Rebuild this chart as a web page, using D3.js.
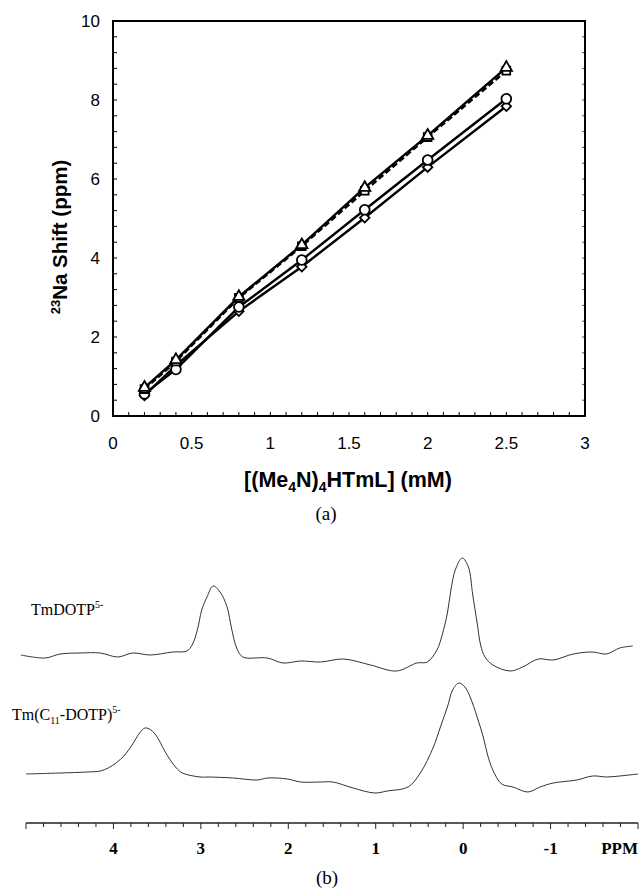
<!DOCTYPE html>
<meta charset="utf-8">
<style>
body { margin: 0; background: #fff; }
.sans { font-family: "Liberation Sans", Arial, sans-serif; }
.serif { font-family: "Liberation Serif", "Times New Roman", serif; }
</style>
<body>
<script src="https://d3js.org/d3.v7.min.js"></script>
<script>

// ---- panel (a): 23Na shift vs concentration ----
var conc = [0.2, 0.4, 0.8, 1.2, 1.6, 2.0, 2.5];
var shiftTriangle = [0.72, 1.42, 3.02, 4.33, 5.78, 7.10, 8.82];
var shiftSquare   = [0.68, 1.38, 2.99, 4.30, 5.70, 7.06, 8.74];
var shiftCircle   = [0.56, 1.18, 2.76, 3.95, 5.22, 6.48, 8.03];
var shiftDiamond  = [0.52, 1.28, 2.65, 3.78, 5.02, 6.30, 7.84];
var xTicksA = [0, 0.5, 1, 1.5, 2, 2.5, 3];
var yTicksA = [0, 2, 4, 6, 8, 10];

// ---- panel (b): spectra ----
var ppmTop = [5.06, 4.78, 4.61, 4.38, 4.15, 3.95, 3.78, 3.58, 3.32, 3.16, 3.10, 3.04, 2.99, 2.93, 2.86,
  2.78, 2.70, 2.65, 2.59, 2.52, 2.24, 2.06, 1.86, 1.63, 1.37, 1.06, 0.76, 0.53, 0.41, 0.30, 0.24, 0.18,
  0.14, 0.09, 0.01, -0.06, -0.11, -0.16, -0.20, -0.25, -0.34, -0.54, -0.68, -0.86, -1.03, -1.26, -1.48,
  -1.64, -1.79, -1.94];
var intTop = [0.05, 0.02, 0.06, 0.07, 0.07, 0.03, 0.07, 0.05, 0.08, 0.09, 0.15, 0.30, 0.50, 0.63, 0.74,
  0.68, 0.53, 0.32, 0.12, 0.03, 0.02, -0.03, -0.01, -0.02, 0.01, -0.05, -0.11, -0.03, -0.02, 0.10, 0.25, 0.47,
  0.70, 0.90, 1.02, 0.93, 0.65, 0.37, 0.15, 0.03, -0.05, -0.11, -0.07, 0.01, 0.00, 0.06, 0.08,
  0.06, 0.12, 0.14];
var ppmBottom = [5.00, 4.61, 4.30, 4.15, 4.06, 3.97, 3.87, 3.78, 3.70, 3.64, 3.57, 3.50, 3.42, 3.35, 3.28, 3.21,
  3.01, 2.90, 2.63, 2.35, 2.24, 2.01, 1.86, 1.63, 1.49, 1.26, 1.01, 0.87, 0.63, 0.49, 0.34, 0.26, 0.18,
  0.12, 0.05, -0.02, -0.08, -0.16, -0.23, -0.28, -0.34, -0.44, -0.57, -0.74, -0.88, -1.03, -1.30, -1.48,
  -1.64, -1.79, -2.00];
var intBottom = [0.06, 0.07, 0.08, 0.09, 0.12, 0.17, 0.25, 0.36, 0.47, 0.52, 0.50, 0.43, 0.30, 0.20, 0.12, 0.07,
  0.03, 0.03, 0.02, 0.00, 0.02, 0.01, -0.02, -0.02, -0.02, -0.08, -0.13, -0.11, -0.07, 0.07, 0.33, 0.53, 0.73,
  0.90, 0.97, 0.93, 0.83, 0.63, 0.43, 0.25, 0.10, -0.04, -0.07, -0.12, -0.07, -0.03, 0.00, 0.04,
  0.03, 0.04, 0.06];
var traceOffsets = [0, -1.2];
var ppmTicks = [4, 3, 2, 1, 0, -1];

var svg = d3.select("body").append("svg")
    .attr("width", 640)
    .attr("height", 890);

// ===== panel (a) =====
var x = d3.scaleLinear().domain([0, 3]).range([113, 585]);
var y = d3.scaleLinear().domain([0, 10]).range([416, 21]);

// minor inward ticks
var yMinor = d3.range(0, 10.01, 0.4);
var xMinor = d3.range(0, 3.001, 0.1);
svg.append("g").selectAll("line").data(yMinor).enter().append("line")
    .attr("x1", x(0)).attr("x2", x(0) + 4)
    .attr("y1", function(d) { return y(d); }).attr("y2", function(d) { return y(d); })
    .attr("stroke", "#000").attr("stroke-width", 1);
svg.append("g").selectAll("line").data(yMinor).enter().append("line")
    .attr("x1", x(3)).attr("x2", x(3) - 3)
    .attr("y1", function(d) { return y(d); }).attr("y2", function(d) { return y(d); })
    .attr("stroke", "#555").attr("stroke-width", 1);
svg.append("g").selectAll("line").data(xMinor).enter().append("line")
    .attr("x1", function(d) { return x(d); }).attr("x2", function(d) { return x(d); })
    .attr("y1", y(0)).attr("y2", y(0) - 4)
    .attr("stroke", "#000").attr("stroke-width", 1);

// box
svg.append("rect")
    .attr("x", x(0)).attr("y", y(10))
    .attr("width", x(3) - x(0)).attr("height", y(0) - y(10))
    .attr("fill", "none").attr("stroke", "#000").attr("stroke-width", 2);

// tick labels
svg.append("g").selectAll("text").data(yTicksA).enter().append("text")
    .attr("class", "sans")
    .attr("x", x(0) - 13).attr("y", function(d) { return y(d); })
    .attr("dy", "0.35em").attr("text-anchor", "end")
    .attr("font-size", 17)
    .text(function(d) { return d; });
svg.append("g").selectAll("text").data(xTicksA).enter().append("text")
    .attr("class", "sans")
    .attr("x", function(d) { return x(d); }).attr("y", 449)
    .attr("text-anchor", "middle")
    .attr("font-size", 17)
    .text(function(d) { return d; });

// axis titles
var xt = svg.append("text").attr("class", "sans")
    .attr("x", 348).attr("y", 487)
    .attr("text-anchor", "middle").attr("font-size", 21.5).attr("font-weight", "bold");
xt.append("tspan").text("[(Me");
xt.append("tspan").attr("font-size", 14).attr("dy", 5).text("4");
xt.append("tspan").attr("dy", -5).text("N)");
xt.append("tspan").attr("font-size", 14).attr("dy", 5).text("4");
xt.append("tspan").attr("dy", -5).text("HTmL] (mM)");

var yt = svg.append("text").attr("class", "sans")
    .attr("transform", "translate(67,237) rotate(-90)")
    .attr("text-anchor", "middle").attr("font-size", 20.5).attr("font-weight", "bold");
yt.append("tspan").attr("font-size", 13).attr("dy", -7).text("23");
yt.append("tspan").attr("dy", 7).text("Na Shift (ppm)");

svg.append("text").attr("class", "serif")
    .attr("x", 326).attr("y", 520)
    .attr("text-anchor", "middle").attr("font-size", 19)
    .text("(a)");

// series (diamond = square turned 45 degrees)
var seriesA = [
  { vals: shiftDiamond,  sym: d3.symbolSquare,   size: 45, rot: 45, dash: null },
  { vals: shiftCircle,   sym: d3.symbolCircle,   size: 75, rot: 0,  dash: null },
  { vals: shiftSquare,   sym: d3.symbolSquare,   size: 60, rot: 0,  dash: "6,3" },
  { vals: shiftTriangle, sym: d3.symbolTriangle, size: 55, rot: 0,  dash: null }
];
var lineA = d3.line()
    .x(function(d) { return x(d[0]); })
    .y(function(d) { return y(d[1]); });

seriesA.forEach(function(s) {
  var pts = conc.map(function(c, i) { return [c, s.vals[i]]; });
  svg.append("path")
      .attr("d", lineA(pts))
      .attr("fill", "none").attr("stroke", "#000")
      .attr("stroke-width", 2.4)
      .attr("stroke-dasharray", s.dash);
});
seriesA.forEach(function(s) {
  var pts = conc.map(function(c, i) { return [c, s.vals[i]]; });
  svg.append("g").selectAll("path").data(pts).enter().append("path")
      .attr("d", d3.symbol().type(s.sym).size(s.size))
      .attr("transform", function(d) {
        return "translate(" + x(d[0]) + "," + y(d[1]) + ") rotate(" + s.rot + ")";
      })
      .attr("fill", "#fff").attr("stroke", "#000").attr("stroke-width", 1.8);
});

// ===== panel (b) =====
var xp = d3.scaleLinear().domain([5, -2]).range([26, 638]);
var yp = d3.scaleLinear().domain([-1.6, 1.4]).range([820, 520]);

var lineB = d3.line()
    .x(function(d) { return xp(d[0]); })
    .y(function(d) { return yp(d[1]); })
    .curve(d3.curveCatmullRom.alpha(0.5));

[[ppmTop, intTop], [ppmBottom, intBottom]].forEach(function(tr, k) {
  var pts = tr[0].map(function(p, i) { return [p, tr[1][i] + traceOffsets[k]]; });
  svg.append("path")
      .attr("d", lineB(pts))
      .attr("fill", "none").attr("stroke", "#333").attr("stroke-width", 1);
});

var l1 = svg.append("text").attr("class", "serif")
    .attr("x", 31).attr("y", 615).attr("font-size", 16);
l1.append("tspan").text("TmDOTP");
l1.append("tspan").attr("font-size", 10).attr("dy", -7).text("5-");

var l2 = svg.append("text").attr("class", "serif")
    .attr("x", 12).attr("y", 720).attr("font-size", 16);
l2.append("tspan").text("Tm(C");
l2.append("tspan").attr("font-size", 10).attr("dy", 4).text("11");
l2.append("tspan").attr("dy", -4).text("-DOTP)");
l2.append("tspan").attr("font-size", 10).attr("dy", -7).text("5-");

// ppm axis with downward ticks
var axisY = 823;
svg.append("line")
    .attr("x1", xp(5)).attr("x2", xp(-2))
    .attr("y1", axisY).attr("y2", axisY)
    .attr("stroke", "#222").attr("stroke-width", 1.3);
var ppmMinor = d3.range(-2, 5.001, 0.2);
svg.append("g").selectAll("line").data(ppmMinor).enter().append("line")
    .attr("x1", function(d) { return xp(d); }).attr("x2", function(d) { return xp(d); })
    .attr("y1", axisY)
    .attr("y2", function(d) { return axisY + (Math.abs(d - Math.round(d)) < 1e-6 ? 6 : 4); })
    .attr("stroke", "#222").attr("stroke-width", 1);
svg.append("g").selectAll("text").data(ppmTicks).enter().append("text")
    .attr("class", "serif")
    .attr("x", function(d) { return xp(d); }).attr("y", 854)
    .attr("text-anchor", "middle").attr("font-size", 17).attr("font-weight", "bold")
    .text(function(d) { return d; });
svg.append("text").attr("class", "serif")
    .attr("x", 638).attr("y", 854)
    .attr("text-anchor", "end").attr("font-size", 17).attr("font-weight", "bold")
    .text("PPM");

svg.append("text").attr("class", "serif")
    .attr("x", 327).attr("y", 884)
    .attr("text-anchor", "middle").attr("font-size", 19)
    .text("(b)");

</script>
</body>
